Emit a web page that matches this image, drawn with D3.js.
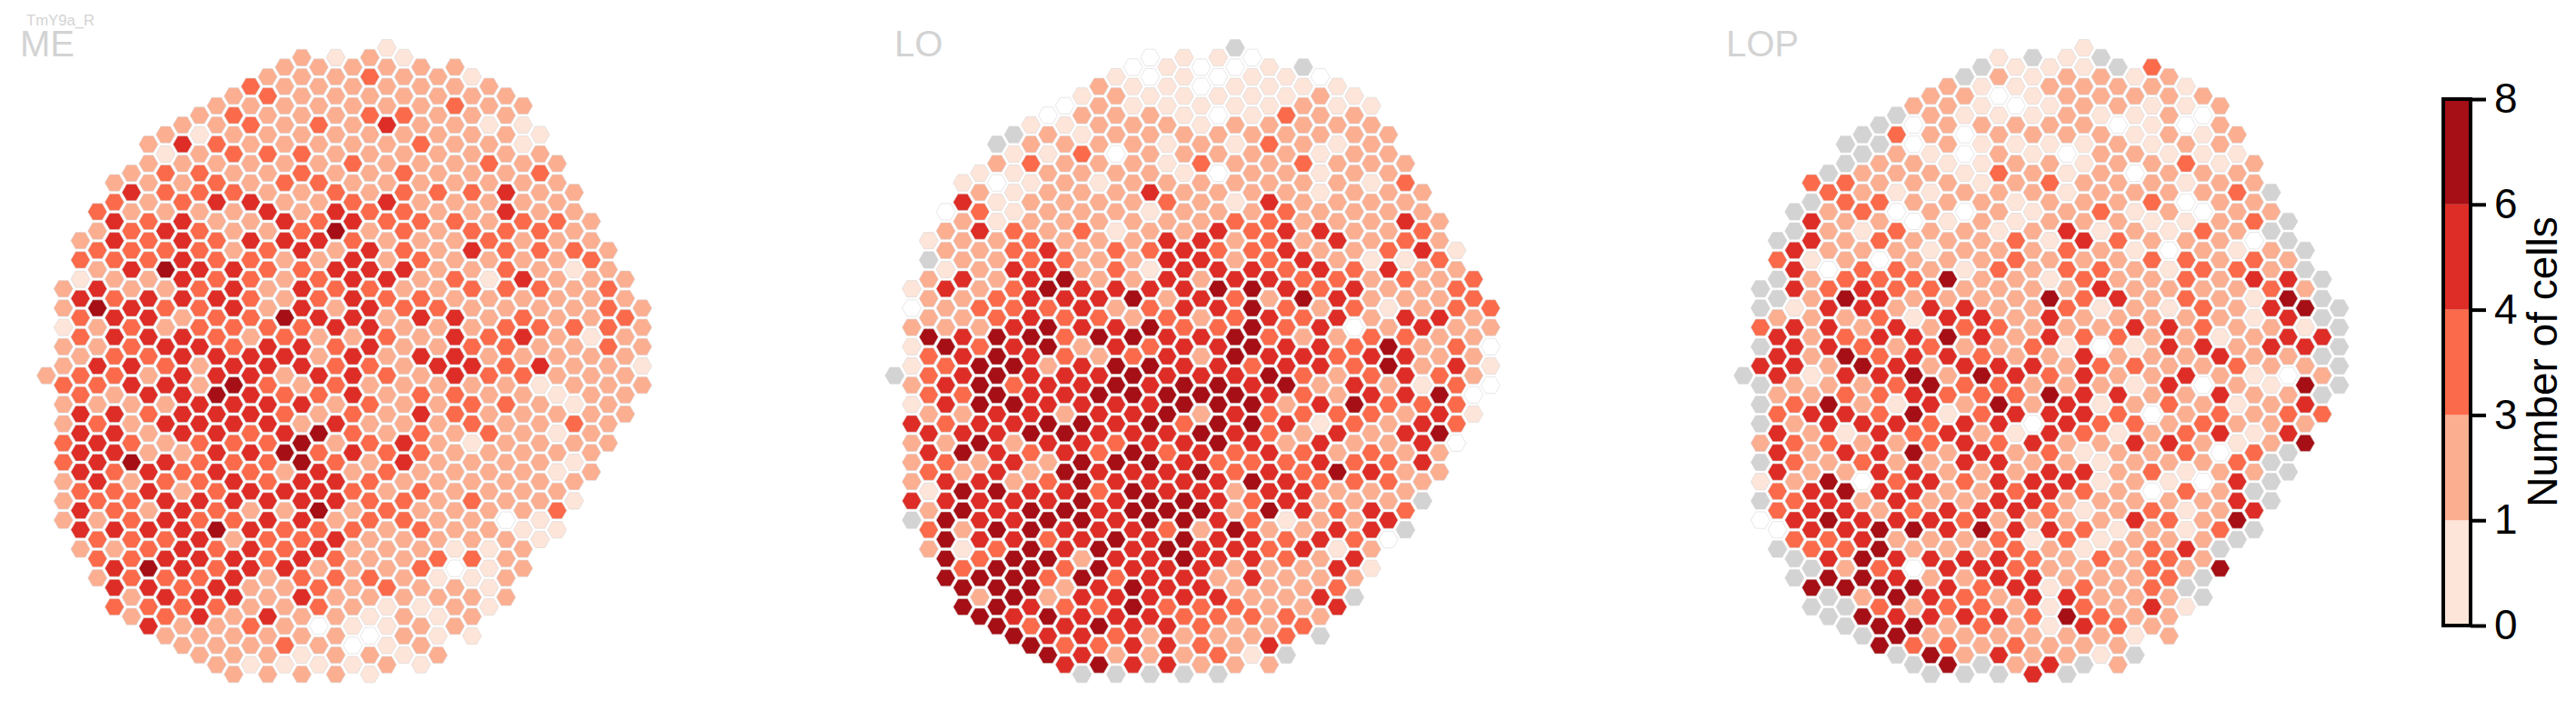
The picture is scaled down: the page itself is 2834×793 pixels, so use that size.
<!DOCTYPE html>
<html>
<head>
<meta charset="utf-8">
<script src="https://cdn.jsdelivr.net/npm/d3@7"></script>
<style>html,body{margin:0;padding:0;background:#fff;overflow:hidden}svg{display:block}text{font-family:"Liberation Sans",Arial,sans-serif}</style>
</head>
<body>
<svg id="chart" width="2834" height="793"></svg>
<script>
// Each row index holds the first column of that half-row, and one code for every second column after it.
// Codes: 0 = empty bin (white), 1..5 = colour bins, g = no data (grey)
const meStart = [20,15,14,13,12,11,10,9,8,7,6,7,6,5,4,5,4,3,4,3,2,3,2,3,2,1,2,1,2,1,2,1,2,1,0,1,2,1,2,1,2,1,2,1,2,1,2,1,2,1,2,3,2,3,4,3,4,5,4,5,6,7,8,9,10,11];
const meCells = ["1","2121","222222","2223221","32222222","232222222","2222222322","2322233222","22323242211","212222222221","243222223221","123332222222","2222223222322","2332232232223","22232332222222","43332232333422","32344223422222","322224243322422","434224343332332","234322352323332","2434344432223222","3333234243243332","3334332242322223","2454433444223212","12243323442314222","24223424332233323","43444323433222222","254334242433222232","34423354424423223","123233334422233332","34443232232434212","223443443422332232","23344442424422222","244324443324434221","233244424432433222","334425323222221222","32445433423322122","22224444232233212","44344432324322222","23244442422232232","4424434532323212","34323335234212222","4422445343322222","3454333532422221","4343432423222212","2423343443222222","334234443232222","2334444443323221","432432252322223","223433442332201","444454333232211","33342334222221","22343434222112","3344434322332","4543442223012","2333423332112","443422323221","244424222222","333322321121","23424221212","4223201122","2222220211","22232012","22212212","2111121","22221"];

const loStart = [20,15,14,13,12,11,10,9,8,7,6,7,6,5,4,5,4,3,4,3,2,3,2,3,2,1,2,1,2,1,2,1,2,1,0,1,2,1,2,1,2,1,2,1,2,1,2,1,2,1,2,3,2,3,4,3,4,5,4,5,6,7,8,9,10,11];
const loCells = ["g","0110","01001g","1010110","21101111","121111121","0211111211","0222101322","11222122222","g21222222222","g22221213212","113022222122","2322213223222","1122221022122","10121222222213","21222422221222","41222232142222","031222122232222","212222223322242","243231224344223","1223222442324232","2234233433422341","g223322442342113","1244231444343422","24245224244332323","14235444455434223","22344452432542223","023334234453231233","22343323234342442","222454453353402422","54553554453223322","153452434454435230","34543234254434422","135524554434435241","g34544454445323432","245344545545242130","33544555554324450","14554444555245333","22442445243333241","43445545355413243","4445544454324245","22524434454242240","4543435343432322","2324255543334334","3242544453435422","2442354444543332","155443544244222","444445455434222g","254554555254343","g54455455431224","32554443252244g","54434545443430","21354545443412","5355244544324","3553544422241","5553534424222","555245442223","25244444224g","554335333224","54544433332","5345443223","544322223g","53344324","5422231g","4544222","ggggg"];

const lopStart = [20,15,14,13,12,11,10,9,8,7,6,7,6,5,4,5,4,3,4,3,2,3,2,3,2,1,2,1,2,1,2,1,2,1,0,1,2,1,2,1,2,1,2,1,2,1,2,1,2,1,2,3,2,3,4,3,4,5,4,5,6,7,8,9,10,11];
const lopCells = ["1","1g1g","g111g3","g212212","21122221","220122222","2210122112","g211121120","g0222220102","g32022221212","gg0211112122","g21021022111","g221122122312","g222132120222","33222123222122","3211222122223g","g3322212223022","g23020212312022","42201212221123g","g2132212412132g","g42322231432220g","422212223210212g","3120222322233232","403321323321332g","g233352213223244g","g4343322224222232","g254222253423215g","g1442442231213245g","2223144242222214g","34424233222443221g","42344542433221244","g4432322310144244g","4253443224222422g","44254244423322322g","g41445254342242102","g2223533222140215g","2233433354422422g","g3521425241232124","34435134443023233","g2444344043323222","4214342143123414","23322343422442125","424452423122303g","g32322442212223g","422442224423122g","125034344412104g","34544223432032g","g34242244222224g","344234443123124","045444322224325","04455454431213g","3342223131222g","g335222321234g","g454444323232","g230443222325","g55422442223g","55554341323g","g2543244222g","gg3233213241","g5444435322","g552321432","g522222212","53323222","g524221g","g5g24g2","ggg4g"];

const panelNames = ["ME","LO","LOP"];
const subTitle = "TmY9a_R";
const binCodes = ["1","2","3","4","5"];
const binColors = ["#fee5d9","#fcae91","#fb6a4a","#de2d26","#a50f15"];
const tickLabels = ["0","1","3","4","6","8"];
const colorbarTitle = "Number of cells";

const panels = [
  {name:panelNames[0], start:meStart, cells:meCells, x0:51, labelX:22},
  {name:panelNames[1], start:loStart, cells:loCells, x0:984.3, labelX:984},
  {name:panelNames[2], start:lopStart, cells:lopCells, x0:1918, labelX:1899}
];

const svg = d3.select("#chart");
svg.append("rect").attr("width",2834).attr("height",793).attr("fill","#fff");

const colPitch = 18.73, maxCol = 35, maxRow = 65;
const yScale = d3.scaleLinear().domain([0,maxRow]).range([52.7,52.7+maxRow*10.6]);
const fill = d3.scaleOrdinal().domain(["0","g",...binCodes]).range(["#ffffff","#d3d3d3",...binColors]);
const R = 10.5;
const hexPath = d3.line().curve(d3.curveLinearClosed)(d3.range(6).map(i=>{
  const a = i*Math.PI/3; return [R*Math.cos(a), R*Math.sin(a)];
}));

panels.forEach(p=>{
  const xScale = d3.scaleLinear().domain([0,maxCol]).range([p.x0,p.x0+maxCol*colPitch]);
  const hexes = [];
  p.cells.forEach((s,r)=>{
    Array.from(s).forEach((code,i)=>hexes.push({col:p.start[r]+2*i,row:r,code}));
  });
  const g = svg.append("g").attr("class","panel");
  g.selectAll("path").data(hexes).join("path")
    .attr("d",hexPath)
    .attr("transform",d=>`translate(${xScale(d.col)},${yScale(d.row)})`)
    .attr("fill",d=>fill(d.code))
    .attr("stroke","#d3d3d3")
    .attr("stroke-opacity",0.55)
    .attr("stroke-width",1);
  svg.append("text").attr("x",p.labelX).attr("y",62).attr("font-size",40).attr("fill","#d3d3d3").text(p.name);
});
svg.append("text").attr("x",29).attr("y",28).attr("font-size",16.7).attr("fill","#d3d3d3").text(subTitle);

// colour bar
const cbLeft = 2688, cbRight = 2718, cbTop = 109, cbBottom = 688;
const cbScale = d3.scalePoint().domain(tickLabels).range([cbBottom,cbTop]);
const cb = svg.append("g");
cb.selectAll("rect.band").data(binColors).join("rect").attr("class","band")
  .attr("x",cbLeft).attr("width",cbRight-cbLeft)
  .attr("y",(d,i)=>cbScale(tickLabels[i+1]))
  .attr("height",(d,i)=>cbScale(tickLabels[i])-cbScale(tickLabels[i+1]))
  .attr("fill",d=>d);
cb.append("rect").attr("x",cbLeft).attr("y",cbTop).attr("width",cbRight-cbLeft).attr("height",cbBottom-cbTop)
  .attr("fill","none").attr("stroke","#000").attr("stroke-width",4);
const axis = d3.axisRight(cbScale).tickSize(17).tickPadding(9);
const ag = svg.append("g").attr("transform",`translate(${cbRight},0)`).call(axis);
ag.select(".domain").remove();
ag.selectAll("line").attr("stroke","#000").attr("stroke-width",4);
ag.selectAll("text").attr("font-size",46).attr("fill","#000").style("font-family",'"Liberation Sans",Arial,sans-serif');
svg.append("text").attr("transform",`translate(2813,398) rotate(-90)`).attr("text-anchor","middle")
  .attr("font-size",46).attr("fill","#000").text(colorbarTitle);
</script>
</body>
</html>
